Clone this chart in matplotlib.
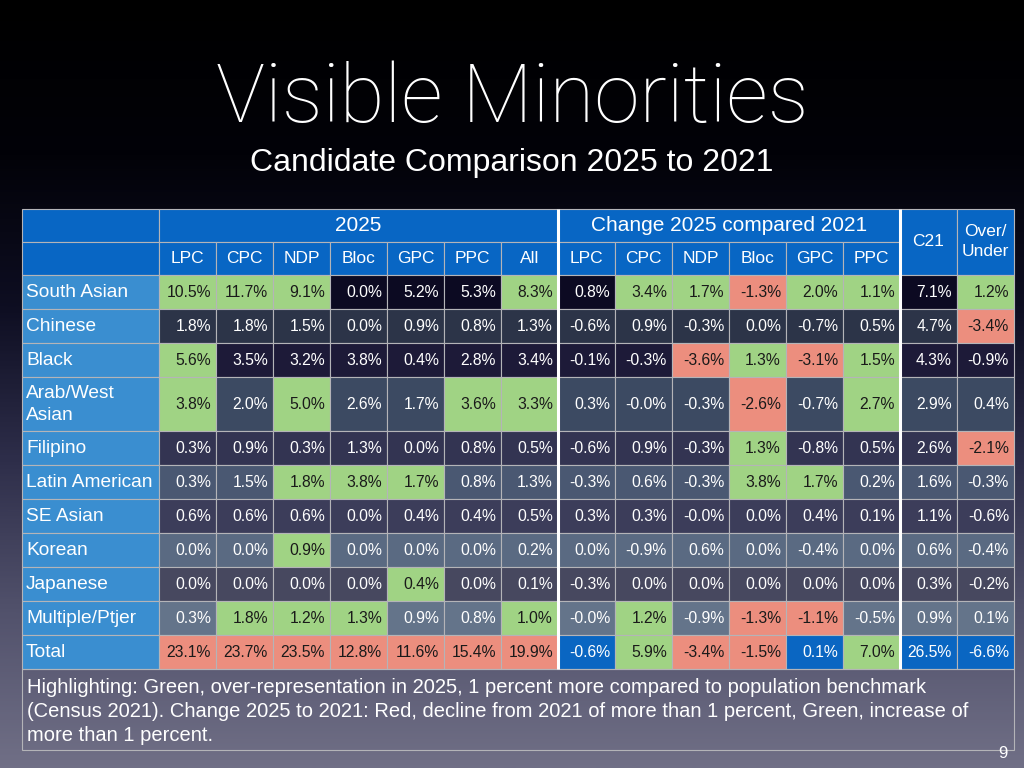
import numpy as np
import matplotlib.pyplot as plt
from matplotlib.colors import LinearSegmentedColormap
from matplotlib.patches import Rectangle

plt.rcParams['font.family'] = ['Liberation Sans', 'DejaVu Sans']

# Data
groups = ["South Asian", "Chinese", "Black", "Arab/West\nAsian", "Filipino",
          "Latin American", "SE Asian", "Korean", "Japanese", "Multiple/Ptjer", "Total"]
parties_2025 = ["LPC", "CPC", "NDP", "Bloc", "GPC", "PPC", "All"]
parties_change = ["LPC", "CPC", "NDP", "Bloc", "GPC", "PPC"]

share_2025 = [
    [10.5, 11.7, 9.1, 0.0, 5.2, 5.3, 8.3],
    [1.8, 1.8, 1.5, 0.0, 0.9, 0.8, 1.3],
    [5.6, 3.5, 3.2, 3.8, 0.4, 2.8, 3.4],
    [3.8, 2.0, 5.0, 2.6, 1.7, 3.6, 3.3],
    [0.3, 0.9, 0.3, 1.3, 0.0, 0.8, 0.5],
    [0.3, 1.5, 1.8, 3.8, 1.7, 0.8, 1.3],
    [0.6, 0.6, 0.6, 0.0, 0.4, 0.4, 0.5],
    [0.0, 0.0, 0.9, 0.0, 0.0, 0.0, 0.2],
    [0.0, 0.0, 0.0, 0.0, 0.4, 0.0, 0.1],
    [0.3, 1.8, 1.2, 1.3, 0.9, 0.8, 1.0],
    [23.1, 23.7, 23.5, 12.8, 11.6, 15.4, 19.9],
]
change_2021 = [
    [0.8, 3.4, 1.7, -1.3, 2.0, 1.1],
    [-0.6, 0.9, -0.3, 0.0, -0.7, 0.5],
    [-0.1, -0.3, -3.6, 1.3, -3.1, 1.5],
    [0.3, -0.0, -0.3, -2.6, -0.7, 2.7],
    [-0.6, 0.9, -0.3, 1.3, -0.8, 0.5],
    [-0.3, 0.6, -0.3, 3.8, 1.7, 0.2],
    [0.3, 0.3, -0.0, 0.0, 0.4, 0.1],
    [0.0, -0.9, 0.6, 0.0, -0.4, 0.0],
    [-0.3, 0.0, 0.0, 0.0, 0.0, 0.0],
    [-0.0, 1.2, -0.9, -1.3, -1.1, -0.5],
    [-0.6, 5.9, -3.4, -1.5, 0.1, 7.0],
]
census_2021 = [7.1, 4.7, 4.3, 2.9, 2.6, 1.6, 1.1, 0.6, 0.3, 0.9, 26.5]
over_under = [1.2, -3.4, -0.9, 0.4, -2.1, -0.3, -0.6, -0.4, -0.2, 0.1, -6.6]

# highlight codes: G green, R red, B blue, . none
hl_2025 = ["GGG...G", ".......", "G......", "G.G..GG", ".......", "..GGG..",
           ".......", "..G....", "....G..", ".GGG..G", "RRRRRRR"]
hl_change = [".GGRGG", "......", "..RGRG", "...R.G", "...G..", "...GG.",
             "......", "......", "......", ".G.RR.", "BGRRBG"]
hl_c21 = "..........B"
hl_over = "GR..R.....B"

note = ("Highlighting: Green, over-representation in 2025, 1 percent more compared to population benchmark\n"
        "(Census 2021). Change 2025 to 2021: Red, decline from 2021 of more than 1 percent, Green, increase of\n"
        "more than 1 percent.")

# colours
fills = {'G': '#a0d384', 'R': '#ec8e7e', 'B': '#0a66c2'}
head_blue = '#0866c4'
label_blue = '#3a8ed0'
grid = '#b4b4b8'
odd_cmap = LinearSegmentedColormap.from_list('odd', ['#0c0a22', '#1d1a38', '#333452', '#3c3d5a', '#47485f'])
even_cmap = LinearSegmentedColormap.from_list('even', ['#2c3448', '#3c4a62', '#4a5872', '#5a6a82', '#64748a'])

fig = plt.figure(figsize=(10.24, 7.68), dpi=100)
ax = fig.add_axes([0, 0, 1, 1])
ax.set_xlim(0, 1024)
ax.set_ylim(768, 0)
ax.axis('off')

# background gradient
bg = LinearSegmentedColormap.from_list('bg', ['#000000', '#020208', '#0e0e22', '#2e2e4a', '#52526c', '#706f86'])
grad = np.linspace(0, 1, 400).reshape(-1, 1)
ax.imshow(grad, cmap=bg, extent=[0, 1024, 768, 0], aspect='auto', zorder=0)

ax.text(512, 100, "Visible Minorities", color='white', fontsize=59, ha='center', va='center',
        family=['Roboto', 'Liberation Sans'], fontweight='light')
ax.text(512, 163, "Candidate Comparison 2025 to 2021", color='white', fontsize=23, ha='center', va='center')

# table layout (pixels)
x0, label_w, col_w = 22, 137, 57
ncols = len(parties_2025) + len(parties_change) + 2
col_x = x0 + label_w + col_w * np.arange(ncols + 1)
x1 = col_x[-1]
top, head_h = 209, 33
row_h = [54 if '\n' in g else 34 for g in groups]
row_y = 209 + 2 * head_h + np.concatenate([[0], np.cumsum(row_h)])
bottom = row_y[-1]


def cell(x, y, w, h, fc):
    ax.add_patch(Rectangle((x, y), w, h, facecolor=fc, edgecolor=grid, lw=0.8, zorder=2))


# header
cell(x0, top, label_w, head_h, head_blue)
cell(x0, top + head_h, label_w, head_h, head_blue)
n25 = len(parties_2025)
nch = len(parties_change)
cell(col_x[0], top, col_w * n25, head_h, head_blue)
ax.text(col_x[0] + col_w * n25 / 2, top + head_h / 2, "2025", color='white', fontsize=15,
        ha='center', va='center', zorder=3)
cell(col_x[n25], top, col_w * nch, head_h, head_blue)
ax.text(col_x[n25] + col_w * nch / 2, top + head_h / 2, "Change 2025 compared 2021", color='white',
        fontsize=15, ha='center', va='center', zorder=3)
for j, p in enumerate(parties_2025 + parties_change):
    cell(col_x[j], top + head_h, col_w, head_h, head_blue)
    ax.text(col_x[j] + col_w / 2, top + head_h * 1.5, p, color='white', fontsize=12.5,
            ha='center', va='center', zorder=3)
for j, lab in zip([ncols - 2, ncols - 1], ["C21", "Over/\nUnder"]):
    cell(col_x[j], top, col_w, 2 * head_h, head_blue)
    ax.text(col_x[j] + col_w / 2, top + head_h - 0.5, lab, color='white', fontsize=12.5,
            ha='center', va='center', linespacing=1.5, zorder=3)

# body
n_rows = len(groups)
odd_rows = [i for i in range(n_rows - 1) if i % 2 == 0]
even_rows = [i for i in range(n_rows - 1) if i % 2 == 1]
for i, g in enumerate(groups):
    y, h = row_y[i], row_h[i]
    if i % 2 == 0:
        base = odd_cmap(odd_rows.index(i) / (len(odd_rows) - 1)) if i in odd_rows else odd_cmap(1.0)
    else:
        base = even_cmap(even_rows.index(i) / (len(even_rows) - 1))
    cell(x0, y, label_w, h, label_blue)
    ax.text(x0 + 4, y + h / 2 + 0.5, g, color='white', fontsize=13.8, ha='left', va='center',
            linespacing=1.35, zorder=3)
    vals = share_2025[i] + change_2021[i] + [census_2021[i], over_under[i]]
    codes = hl_2025[i] + hl_change[i] + hl_c21[i] + hl_over[i]
    for j, (v, c) in enumerate(zip(vals, codes)):
        fc = fills.get(c, base)
        cell(col_x[j], y, col_w, h, fc)
        tc = '#1a1a1a' if c in 'GR' else 'white'
        ax.text(col_x[j + 1] - 5, y + h / 2 + 0.5, f"{v:.1f}%", color=tc, fontsize=11.3,
                ha='right', va='center', zorder=3)

# white separators
for j in [n25, n25 + nch]:
    ax.plot([col_x[j], col_x[j]], [top, bottom], color='white', lw=2.2, zorder=4,
            solid_capstyle='butt')

# note box
ax.add_patch(Rectangle((x0, bottom), x1 - x0, 81, facecolor='none', edgecolor=grid, lw=0.8, zorder=2))
ax.text(27, bottom + 9, note, color='white', fontsize=14.5, ha='left', va='top',
        linespacing=1.34, zorder=3)

ax.text(1003, 753, "9", color='white', fontsize=12, ha='center', va='center')

fig.savefig('out.png', dpi=100)
